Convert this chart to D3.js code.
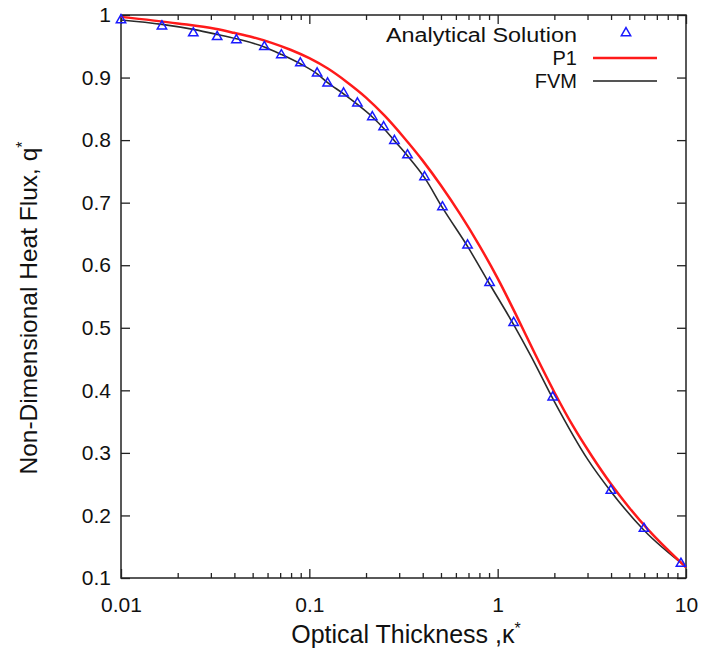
<!DOCTYPE html>
<html>
<head>
<meta charset="utf-8">
<script src="https://cdn.jsdelivr.net/npm/d3@7"></script>
<style>
  html, body { margin: 0; padding: 0; background: #fff; }
  svg text { font-family: "Liberation Sans", Arial, sans-serif; fill: #111; }
</style>
</head>
<body>
<svg id="chart" width="704" height="655"></svg>
<script>
// Analytical solution (triangles)
const analyticalX = [0.01, 0.0165, 0.0242, 0.0324, 0.041, 0.0577, 0.071, 0.0896, 0.11, 0.125, 0.152, 0.18, 0.216, 0.248, 0.283, 0.332, 0.409, 0.509, 0.692, 0.906, 1.216, 1.96, 3.99, 5.98, 9.4];
const analyticalY = [0.992, 0.982, 0.971, 0.965, 0.960, 0.949, 0.936, 0.923, 0.907, 0.891, 0.875, 0.859, 0.837, 0.821, 0.799, 0.776, 0.741, 0.693, 0.632, 0.572, 0.508, 0.389, 0.240, 0.179, 0.123];

// P1 (red line)
const p1X = [0.01, 0.02, 0.0316, 0.0398, 0.0501, 0.0631, 0.0794, 0.1, 0.126, 0.158, 0.2, 0.251, 0.316, 0.398, 0.501, 0.631, 0.794, 1, 1.26, 1.58, 2, 2.51, 3.16, 3.98, 5.01, 6.31, 7.94, 10];
const p1Y = [0.997, 0.9865, 0.978, 0.9715, 0.9645, 0.9555, 0.9445, 0.931, 0.914, 0.893, 0.868, 0.839, 0.805, 0.768, 0.727, 0.682, 0.633, 0.579, 0.519, 0.458, 0.397, 0.343, 0.295, 0.251, 0.212, 0.177, 0.146, 0.117];

// FVM (black line)
const fvmX = [0.01, 0.0165, 0.0242, 0.0324, 0.041, 0.0577, 0.071, 0.0896, 0.11, 0.125, 0.152, 0.18, 0.216, 0.248, 0.283, 0.332, 0.409, 0.509, 0.692, 0.906, 1.216, 1.5, 2.0, 3.0, 4.0, 6.0, 10];
const fvmY = [0.992, 0.985, 0.977, 0.969, 0.962, 0.949, 0.937, 0.922, 0.906, 0.892, 0.874, 0.857, 0.837, 0.819, 0.799, 0.775, 0.740, 0.692, 0.630, 0.570, 0.505, 0.455, 0.382, 0.290, 0.238, 0.176, 0.118];

// Ticks
const xMajorTicks = [0.01, 0.1, 1, 10];
const xTickLabels = ["0.01", "0.1", "1", "10"];
const xMinorTicks = [];
[0.01, 0.1, 1].forEach(d => { for (let k = 2; k <= 9; k++) xMinorTicks.push(+(d * k).toPrecision(3)); });
const yTicks = [0.1, 0.2, 0.3, 0.4, 0.5, 0.6, 0.7, 0.8, 0.9, 1];
const yTickLabels = ["0.1", "0.2", "0.3", "0.4", "0.5", "0.6", "0.7", "0.8", "0.9", "1"];

const legendLabels = ["Analytical Solution", "P1", "FVM"];

const L = 121, R = 686, T = 15, B = 578;
const svg = d3.select("#chart");
const x = d3.scaleLog().domain([0.01, 10]).range([L, R]);
const y = d3.scaleLinear().domain([0.1, 1]).range([B, T]);

const axisColor = "#222";
function styleAxis(g) {
  g.select(".domain").remove();
  g.selectAll("line").attr("stroke", axisColor).attr("stroke-width", 1.3);
  g.selectAll("text").style("font-size", "21px").attr("fill", "#111");
}

// bottom axis
svg.append("g").attr("transform", `translate(0,${B})`)
  .call(d3.axisBottom(x).tickValues(xMajorTicks).tickSize(-9).tickPadding(19)
    .tickFormat((d, i) => xTickLabels[i])).call(styleAxis);
svg.append("g").attr("transform", `translate(0,${B})`)
  .call(d3.axisBottom(x).tickValues(xMinorTicks).tickSize(-5).tickFormat("")).call(styleAxis);
// top axis
svg.append("g").attr("transform", `translate(0,${T})`)
  .call(d3.axisTop(x).tickValues(xMajorTicks).tickSize(-9).tickFormat("")).call(styleAxis);
svg.append("g").attr("transform", `translate(0,${T})`)
  .call(d3.axisTop(x).tickValues(xMinorTicks).tickSize(-5).tickFormat("")).call(styleAxis);
// left axis
svg.append("g").attr("transform", `translate(${L},0)`)
  .call(d3.axisLeft(y).tickValues(yTicks).tickSize(-9).tickPadding(10)
    .tickFormat((d, i) => yTickLabels[i])).call(styleAxis);
// right axis
svg.append("g").attr("transform", `translate(${R},0)`)
  .call(d3.axisRight(y).tickValues(yTicks).tickSize(-9).tickFormat("")).call(styleAxis);

// frame
svg.append("rect").attr("x", L).attr("y", T).attr("width", R - L).attr("height", B - T)
  .attr("fill", "none").attr("stroke", axisColor).attr("stroke-width", 1.5);

const line = d3.line().x(d => x(d[0])).y(d => y(d[1])).curve(d3.curveMonotoneX);

svg.append("path").datum(fvmX.map((v, i) => [v, fvmY[i]]))
  .attr("d", line).attr("fill", "none").attr("stroke", "#2a2a2a").attr("stroke-width", 1.6);
svg.append("path").datum(p1X.map((v, i) => [v, p1Y[i]]))
  .attr("d", line).attr("fill", "none").attr("stroke", "#ff1a1a").attr("stroke-width", 2.5);

const tri = d3.symbol().type(d3.symbolTriangle).size(38);
svg.append("g").selectAll("path").data(analyticalX.map((v, i) => [v, analyticalY[i]]))
  .join("path").attr("d", tri)
  .attr("transform", d => `translate(${x(d[0])},${y(d[1])})`)
  .attr("fill", "none").attr("stroke", "#1a1aff").attr("stroke-width", 1.5);

// legend
const lg = svg.append("g");
const legY = [35, 58, 81];
lg.selectAll("text").data(legendLabels).join("text")
  .attr("x", 577).attr("y", (d, i) => legY[i]).attr("dy", "0.35em")
  .attr("text-anchor", "end").style("font-size", "20px").attr("textLength", (d, i) => i === 0 ? 191 : null)
  .attr("lengthAdjust", "spacingAndGlyphs").text(d => d);
lg.append("path").attr("d", tri).attr("transform", `translate(626,${legY[0] - 2})`)
  .attr("fill", "none").attr("stroke", "#1a1aff").attr("stroke-width", 1.5);
lg.append("line").attr("x1", 593).attr("x2", 657).attr("y1", legY[1]).attr("y2", legY[1])
  .attr("stroke", "#ff1a1a").attr("stroke-width", 2.5);
lg.append("line").attr("x1", 593).attr("x2", 657).attr("y1", legY[2]).attr("y2", legY[2])
  .attr("stroke", "#555").attr("stroke-width", 2);

// axis titles
const xt = svg.append("text").attr("x", 406).attr("y", 643).attr("text-anchor", "middle")
  .style("font-size", "25px");
xt.append("tspan").text("Optical Thickness ,κ");
xt.append("tspan").attr("dy", "-9").style("font-size", "16px").text("*");

const yt = svg.append("text").attr("transform", "translate(37,308) rotate(-90)")
  .attr("text-anchor", "middle").style("font-size", "24.5px");
yt.append("tspan").text("Non-Dimensional Heat Flux, q");
yt.append("tspan").attr("dy", "-9").style("font-size", "16px").text("*");
</script>
</body>
</html>
